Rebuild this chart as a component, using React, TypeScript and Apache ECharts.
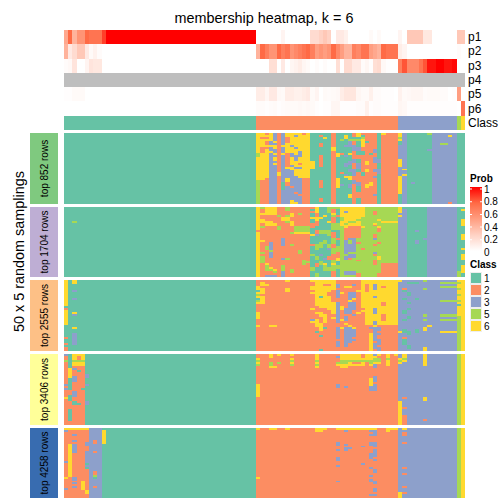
import React, { useEffect, useRef } from "react";
import * as echarts from "echarts";

const FONT = "Liberation Sans";
const titleText = "membership heatmap, k = 6";
const sideText = "50 x 5 random samplings";
const annotationRows = ["p1", "p2", "p3", "p4", "p5", "p6", "Class"];
const classCounts: [number, number][] = [[1, 46], [2, 34], [3, 14], [5, 1], [6, 1]];
const classColors: Record<number, string> = { 1: "#66C2A5", 2: "#FC8D62", 3: "#8DA0CB", 5: "#A6D854", 6: "#FFD92F" };
const classLabels = [1, 2, 3, 5, 6];
const panelLabels = ["top 852 rows", "top 1704 rows", "top 2555 rows", "top 3406 rows", "top 4258 rows"];
const panelColors = ["#7FC97F", "#BEAED4", "#FDC086", "#FFFF99", "#386CB0"];
const probLabels = ["1", "0.8", "0.6", "0.4", "0.2", "0"];

const p1 = [.45,.75,.4,.55,.55,.75,.7,.7,.7,.85,1,1,1,1,1,1,1,1,1,1,1,1,1,1,1,1,1,1,1,1,1,1,1,1,1,1,1,1,1,1,1,1,1,1,1,1,
  0,0,0,0,0,0,.06,0,0,0,0,0,0,.2,.2,.25,.3,.25,0,.12,.12,.08,0,0,0,0,0,.03,0,.03,0,0,0,0,.06,0,.3,.3,.3,.3,.13,.13,0,0,0,0,0,0,.3,.3];
const p2 = [.4,.12,.2,.3,.3,.12,.03,.07,.02,0,0,0,0,0,0,0,0,0,0,0,0,0,0,0,0,0,0,0,0,0,0,0,0,0,0,0,0,0,0,0,0,0,0,0,0,0,
  .4,.75,.65,.55,.55,.75,.65,.7,.55,.6,.65,.7,.75,.65,.5,.55,.5,.55,.75,.6,.5,.4,.4,.65,.6,.7,.7,.5,.45,.4,.75,.7,.7,.7,.1,.06,0,0,0,0,0,0,0,0,0,0,0,0,.02,0];
const p3 = [.02,.04,.15,0,0,.06,.15,.13,.13,0,0,0,0,0,0,0,0,0,0,0,0,0,0,0,0,0,0,0,0,0,0,0,0,0,0,0,0,0,0,0,0,0,0,0,0,0,
  0,0,0,.18,.18,0,.12,0,.05,.07,.1,.05,.03,0,.02,0,.02,0,0,.18,0,.2,.2,.12,.12,.02,.05,.01,.18,.2,.04,.01,0,0,.65,.8,.6,.6,.6,.7,.8,.95,.95,1,1,.95,.95,.98,0,0];
const p4 = new Array(96).fill(null);
const p5 = [.01,.01,.03,.03,.03,0,0,0,0,0,0,0,0,0,0,0,0,0,0,0,0,0,0,0,0,0,0,0,0,0,0,0,0,0,0,0,0,0,0,0,0,0,0,0,0,0,
  .1,.1,.05,.12,.12,.04,.03,.1,.1,.08,.08,.1,.12,.03,.06,0,.03,.02,.03,.04,.1,.14,.14,.14,.05,.03,.03,.08,.02,.02,.01,.01,.01,0,.07,.03,.04,.05,.05,.05,.02,.03,.03,.03,.02,.02,0,.01,.5,0];
const p6 = [0,0,0,0,0,0,0,0,0,0,0,0,0,0,0,0,0,0,0,0,0,0,0,0,0,0,0,0,0,0,0,0,0,0,0,0,0,0,0,0,0,0,0,0,0,0,
  .02,.02,.01,.02,.03,.01,.02,.03,.03,.03,.04,.03,.04,.03,.01,0,.01,.01,.05,.05,.01,.01,.01,.01,.02,.02,.08,.01,.02,.02,.01,.01,.01,.01,.05,.04,.01,.01,.01,.01,.01,.01,.01,.01,.01,.01,.01,.01,0,.7];

// a=class 1, b=class 2, c=class 3, e=class 5, f=class 6; each column lists its runs from top to bottom.
const panel1Cols = ["46*a36",
  "f10e2f12e12","f2b1f4b3f14b12","b1f1b1f1b2f1b1f15b13","f4c2f1c2f1c26","c4f1c1f2c2f1c1f2c1f1c20","b20f2b14",
  "c6f1c3f1c14a4c7","f2b3f5b7f1c5f2b2c9","f6c1f3c2f4c1f2c8b1c6f2","f1c1f5c1f3c3f3c1f4c8b1c4f1","f9c3f3b1f1c1f5c8b1c4",
  "b1f22b13","f23b13","a14f4a18","a36","a1b1a3b2a4b6a7b4a5b2a1","a2f1a33","a36","b7f2b27","a10f2a11f5a8",
  "a3e1a6b1a9b1a5c1a9","a1f2a3c1a4c1a3c2a4c1f1a13","a3e1c3a3f1a3c2a2c2a2f2a2c2a3f2a3","b2a1e1b2c3b4c2b3c4b2c2b10",
  "f2a1e1a3c2a2b2a2c3a2b5c2a3b3a3","b1a1e1f4b2a2b9a2b14","b4a1b9f2b2f2b6f2b8","b10a1b14f2b9","b8c2b2c3b3c2b2c1b8c1b4",
  "a13c2a3c3a15","f1b35","3*b36","f2e1f1a2c7f4c5f9a5","c18f1c2f1c14","a36","a25c1a10","3*a36","e1a7c1a27","2*c36","c5e1c30","c5e1c30","c1f1c33b1","c36","2*a36"];

const panel2Cols = ["2*a36","a7e1a28","43*a36",
  "f12b1f23","e1b2f1b2f2b2e1b6f1b5e1b1e4b7","f4b3f3b10e2b7f1e3b2c1","f4b3f3b8c4e1c3b5f1e1b2c1","f4b4f2b22f1e1b1c1","b4e1b5e2b24",
  "b5f2b9c4b6c1b3e3c3","e2b2e1f2e1b18e1b9","b3f2b2f3b3e1b5e1b12e2b2","b10e3f1b22","b3e1b6e3f1b8e2b12","b10e3f1b13e3b6","b10e3f1b14e1b7",
  "b1a1b1a2f1a2b3a3f1a4b1a4e1a6e2a3","f3b2f2b3a2b2c1a4e3a3e2a2b2a3e2","a5f1a6e2a4e3a3c1a3e2a6","a4f1a7e2a3e2a7c1a2f1e3a3",
  "e3a4f1a4e3a4e2c1a3b2a4e2a3","e1b2f1e1b3e4a1b3e3b2e3b3e2f1e3b3","e1a3b1a3e4a4b1a3e3b3f2a2e2a4","f5e2f3e26",
  "f2c1f5e1f2b6c7e1c2e1e5c2e1","f7e1f2b6c1e2c4e1c2b1e6c2e1","f7e1f2b6c7e1c2e2e5c2e1","f6e1f3b6e2b1e3e5b1e6b2","f5e5f1e4e6b1e14",
  "e36","e36","e2b2e4f1b1e4b2c1e2b1e3c1b1e2b3e6","e6f1e3f1b2e5b1e6f2e5e2b2","e7f1e21b7","e7f1e21b7","e7f1e21b7","e7f1e21b7",
  "f3c1f1c31","a1c35","2*a36","a12c1a4c2a17","a36","a16c1a19","7*c36","a33e3","a1f1a4f4a4f3a4f1a2f3a3f4a2"];

const panel3Cols = ["f13a1b1f8a6b1a2b1a1b2","a36","f2a3c1a3c1a6f1c1a6f1a2c6a3","43*a36",
  "b3f2a1f1e1f1a1e1f1b4f4b3f1b12","b1f2b1f3b1f4b24","b2f1b33","b23f1b12","b23f1b12","2*b36","f1b3f2b30","4*b36","b36",
  "f1b2f2b1f1b7f1b5c1f1b14","f13b3f1b3f4b2a1b9","f8a1f5b2f3b3f4b2a1b6a1","f2b1f11b3f5b2a1b11","f2b1f3b2f7b21","f5b6f6b2f1b16",
  "b2c2b1c4b2c11b2c6b1c3b2","b6f1b6f2b5f1b3f1b11","b3f1b10c3b1c3b1f1b1c10b2","b3f1b2c4f1c6b6f1c8b4","b2c1b3c3f1b1c4b2c1b6f1c4b1c1b5",
  "b5f1b10f1b19","f14b1f1b20","f2b4f17b13","f23b1c1b2f9","f2c3f3c1f5c3f4c2f1c7b1c3b1","f23b1c2b1c1b2c3b1c2","f3b1f7b2f4b4f2b13",
  "f23b13","f23b13","f23b13",
  "f1c25f1c9","c4b1a1c3a1c5a2c3a1c1c3a2c2b1a3c3","c1a1c4a2c3a1c2a1c3a2c6a2c5a2c1","c1a1c34","c1a1c7a1c15a2c9","c36",
  "e1c3e1c12e2c1e1c3f2c8f2","c23f1c12","2*c36","c1e1c1e1c6e1c6e2c1e1c5f1c9","c1e1c1e1c6e1c6e2c1e1c5f1c9","c1e1c1e1c6e1c6e2c1e1c5f1c9","c1e1c1e1c6e1c6e2c1e1c5f1c9",
  "f1e1f2e1f2e1f2e1f1a1f5e18","f36"];

const panel4Cols = ["c1b2e1b11c1b1c1b4f1b13","a7f5a6b3a3b4a6b2","f3e1f2b1c1b3c3b5c3b2a2b10","f1b2e1f2b2a1b16a1b10","f3e1f2b11a1b18","a10c2a3c1a8c2a10","40*a36",
  "b2f1e1f1e1b9f7b14","2*b36","f2b2e2f1b29","b6f1b29","f1b3e1b31","2*b36","f1b1f1e1f1e1b30","5*b36","f3e1f1e1f1b29","4*b36",
  "b1c1b2e1f1b9c2b19","f3e2f2b29","f3e2f2b9c1b19","f3e1f2b30","f3e1b1f1b30","f3e1b1f1b30","b2f1e1f2b30","f3e1b32","f3e2f1b6f4c3b17",
  "c1f1e2f1c2b4c3b1c4b17","f1b1e2f1b30","b36","f2e1f3b30","b36","f1b35",
  "c2f1e1f1c19f12","f2e1f1c18b1c4b1c3b5","4*c36","f6c16f2c9b1c2","7*c36","e36","f36"];

const panel5Cols = ["f1c1b15c1b7f1b5c1b4","f1b7f17b11","f1b2c1b2c1b1c5b12c2b1c1b1c1b6","f1b35","f1b26f5b4","f1b6c2b3c6a1c1a1b11f2b2","c36","c6b2c4b1c9b2e1a1c4b1c5","c36","a1f7a28","36*a36",
  "f1b24f1b10","2*b36","2*f1b35","2*b36","f1b35","6*b36","f2b34","f2b34","f1b35","2*b36",
  "f1b6c2b2c1b3c2b2c1b7c1b8","f1b35","f1c1b6c1b1c2b24","f1b9c1b25","2*f1b35","f1b8c1b8c1b17","f1b35",
  "f1c1b1c1b3c2b4c3b4c1b3c1b1c2b6c1b1","f1c3b3c3b1c4b1c1b4c2b4c2b2c2b1c1b1","b36","b36","f2b34","f1b35","f1b35",
  "c33f3","f1c1b2c3b1c12b1c2b1c6b1c2b1c2","12*c36","e36","f36"];

const panelCols = [panel1Cols, panel2Cols, panel3Cols, panel4Cols, panel5Cols];
const panelTop = [133, 207, 280, 354, 428];
const panelHeight = [71, 70, 71, 71, 70];
const ROWS = 36;
const COLS = 96;
const codes: Record<string, number> = { a: 1, b: 2, c: 3, e: 5, f: 6 };

function decode(cols: string[]) {
  const out: number[][] = [];
  let col = 0;
  for (const entry of cols) {
    const parts = entry.split("*");
    const times = parts.length > 1 ? Number(parts[0]) : 1;
    const spec = parts[parts.length - 1];
    for (let t = 0; t < times && col < COLS; t++, col++) {
      let row = 0;
      const re = /([a-z])(\d+)/g;
      let m: RegExpExecArray | null;
      let last = 1;
      while ((m = re.exec(spec)) && row < ROWS) {
        const n = Math.min(Number(m[2]), ROWS - row);
        last = codes[m[1]];
        out.push([col, row, row + n, last]);
        row += n;
      }
      if (row < ROWS) out.push([col, row, ROWS, last]);
    }
  }
  return out;
}

const stops: [number, string][] = [[0, "#FFFFFF"], [0.25, "#FFD2C4"], [0.5, "#FF9E81"], [0.75, "#FF6A45"], [1, "#FF0000"]];
function probColor(v: number | null) {
  if (v === null) return "#BEBEBE";
  for (let i = 1; i < stops.length; i++) {
    if (v <= stops[i][0]) {
      const t = (v - stops[i - 1][0]) / (stops[i][0] - stops[i - 1][0]);
      const a = stops[i - 1][1], b = stops[i][1];
      const ch = (s: string, k: number) => parseInt(s.slice(k, k + 2), 16);
      const mix = (k: number) => Math.round(ch(a, k) + (ch(b, k) - ch(a, k)) * t);
      return `rgb(${mix(1)},${mix(3)},${mix(5)})`;
    }
  }
  return "#FF0000";
}

const panelRender = (_: any, api: any) => {
  const a = api.coord([api.value(0), api.value(1)]);
  const b = api.coord([api.value(0) + 1, api.value(2)]);
  const x = Math.round(a[0]), y = Math.round(a[1]);
  return {
    type: "rect",
    shape: { x, y, width: Math.round(b[0]) - x, height: Math.round(b[1]) - y },
    style: { fill: classColors[api.value(3)] },
  };
};

export default function App() {
  const ref = useRef<HTMLDivElement>(null);
  useEffect(() => {
    document.body.style.margin = "0";
    const chart = echarts.init(ref.current!, undefined, { renderer: "svg" });

    const classRow: number[] = [];
    classCounts.forEach(([c, n]) => { for (let i = 0; i < n; i++) classRow.push(c); });
    const probRows = [p1, p2, p3, p4, p5, p6];
    const annData: any[] = [];
    const annFill: string[] = [];
    probRows.forEach((vals, r) => vals.forEach((v, c) => {
      annData.push([c, r, v === null ? 0 : v]);
      annFill.push(probColor(v));
    }));
    classRow.forEach((v, c) => {
      annData.push([c, 6, v]);
      annFill.push(classColors[v]);
    });

    const grids: any[] = [{ left: 64, width: 401, top: 30, height: 100 }];
    const xAxes: any[] = [{ type: "value", gridIndex: 0, min: 0, max: COLS, show: false }];
    const yAxes: any[] = [{
      type: "category", gridIndex: 0, data: annotationRows, inverse: true, position: "right",
      axisLine: { show: false }, axisTick: { show: false },
      axisLabel: { fontFamily: FONT, fontSize: 12, color: "#000", margin: 3, interval: 0 },
    }];
    const series: any[] = [{
      type: "custom", xAxisIndex: 0, yAxisIndex: 0, silent: true, data: annData,
      encode: { x: 0, y: 1 },
      renderItem: (params: any, api: any) => {
        const h = api.size([0, 1])[1];
        const a = api.coord([api.value(0), api.value(1)]);
        const b = api.coord([api.value(0) + 1, api.value(1)]);
        const x = Math.round(a[0]), y = Math.round(a[1] - h / 2);
        return {
          type: "rect",
          shape: { x, y, width: Math.round(b[0]) - x, height: Math.round(a[1] + h / 2) - y },
          style: { fill: annFill[params.dataIndex] },
        };
      },
    }];

    panelCols.forEach((cols, i) => {
      const k = i + 1;
      grids.push({ left: 64, width: 401, top: panelTop[i], height: panelHeight[i] });
      xAxes.push({ type: "value", gridIndex: k, min: 0, max: COLS, show: false });
      yAxes.push({ type: "value", gridIndex: k, min: 0, max: ROWS, inverse: true, show: false });
      series.push({
        type: "custom", xAxisIndex: k, yAxisIndex: k, silent: true,
        data: decode(cols), encode: { x: 0, y: 1 }, renderItem: panelRender,
      });
    });

    const graphic: any[] = [
      { type: "text", x: 264, y: 18, style: { text: titleText, font: `14.4px ${FONT}`, fill: "#000", textAlign: "center", textVerticalAlign: "middle" } },
      { type: "text", x: 19, y: 251.5, rotation: Math.PI / 2, style: { text: sideText, font: `14.4px ${FONT}`, fill: "#000", textAlign: "center", textVerticalAlign: "middle" } },
    ];
    panelLabels.forEach((t, i) => {
      graphic.push({ type: "rect", shape: { x: 30, y: panelTop[i], width: 28, height: panelHeight[i] }, style: { fill: panelColors[i] } });
      graphic.push({ type: "text", x: 44, y: panelTop[i] + panelHeight[i] / 2, rotation: Math.PI / 2, style: { text: t, font: `10px ${FONT}`, fill: "#000", textAlign: "center", textVerticalAlign: "middle" } });
    });
    graphic.push({ type: "text", x: 470, y: 178, style: { text: "Prob", font: `bold 10px ${FONT}`, fill: "#000", textVerticalAlign: "middle" } });
    graphic.push({
      type: "rect", shape: { x: 470, y: 187, width: 12, height: 64 },
      style: { fill: new echarts.graphic.LinearGradient(0, 0, 0, 1, stops.map(([o, color]) => ({ offset: 1 - o, color })).reverse()) },
    });
    probLabels.forEach((t, i) => {
      const y = 189 + i * 12.7;
      graphic.push({ type: "text", x: 484, y, style: { text: t, font: `10px ${FONT}`, fill: "#000", textVerticalAlign: "middle" } });
      if (i < 5) {
        graphic.push({ type: "rect", shape: { x: 470, y: y - 0.5, width: 2, height: 1 }, style: { fill: "#fff" } });
        graphic.push({ type: "rect", shape: { x: 480, y: y - 0.5, width: 2, height: 1 }, style: { fill: "#fff" } });
      }
    });
    graphic.push({ type: "text", x: 470, y: 264, style: { text: "Class", font: `bold 10px ${FONT}`, fill: "#000", textVerticalAlign: "middle" } });
    classLabels.forEach((c, i) => {
      const y = 272 + i * 12;
      graphic.push({ type: "rect", shape: { x: 470.5, y: y + 0.5, width: 11, height: 11 }, style: { fill: classColors[c], stroke: "#eeeeee", lineWidth: 1 } });
      graphic.push({ type: "text", x: 484, y: y + 6, style: { text: String(c), font: `10px ${FONT}`, fill: "#000", textVerticalAlign: "middle" } });
    });

    chart.setOption({ animation: false, grid: grids, xAxis: xAxes, yAxis: yAxes, series, graphic });
    return () => chart.dispose();
  }, []);
  return <div ref={ref} style={{ position: "fixed", left: 0, top: 0, width: 504, height: 504, background: "#fff" }} />;
}
